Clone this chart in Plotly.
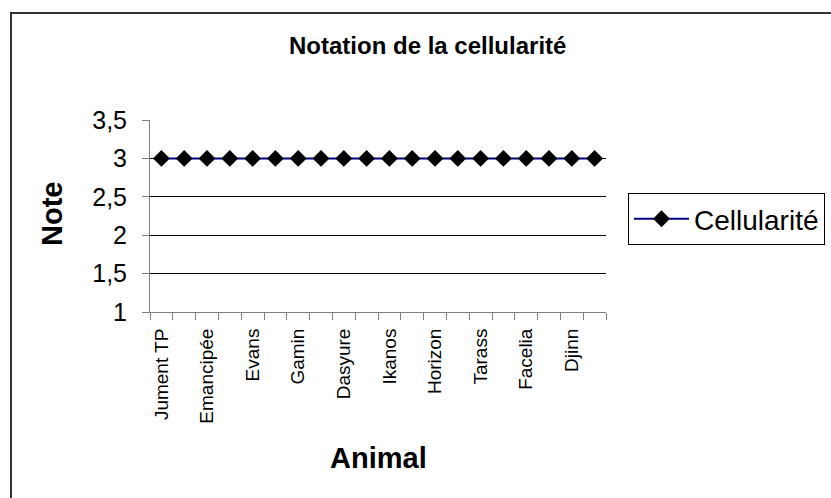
import plotly.graph_objects as go

# Data
notes = [3, 3, 3, 3, 3, 3, 3, 3, 3, 3, 3, 3, 3, 3, 3, 3, 3, 3, 3, 3]
labelled_animals = ["Jument TP", "Emancipée", "Evans", "Gamin", "Dasyure",
                    "Ikanos", "Horizon", "Tarass", "Facelia", "Djinn"]
label_positions = [0, 2, 4, 6, 8, 10, 12, 14, 16, 18]
y_ticks = [1, 1.5, 2, 2.5, 3, 3.5]

W, H = 831, 498
L, R, T, B = 150, 606, 120, 312  # plot area in pixels


def px(x):
    return (x - L) / (R - L)


def py(y):
    return (B - y) / (B - T)


font = "Liberation Sans, Arial, sans-serif"
x_idx = list(range(len(notes)))

fig = go.Figure()
fig.add_trace(go.Scatter(
    x=x_idx, y=notes, mode="lines+markers", name="Cellularité",
    line=dict(color="#000080", width=2),
    marker=dict(symbol="diamond", size=13, color="black"),
))

fig.update_layout(
    width=W, height=H,
    margin=dict(l=L, r=W - R, t=T, b=H - B, pad=0, autoexpand=False),
    paper_bgcolor="white", plot_bgcolor="white",
    separators=", ",
    font=dict(family=font, color="black"),
    showlegend=True,
    legend=dict(
        x=px(628), y=py(193), xanchor="left", yanchor="top",
        bordercolor="black", borderwidth=1, bgcolor="white",
        font=dict(size=28, family=font),
        itemwidth=55,
    ),
    xaxis=dict(
        range=[-0.5, len(notes) - 0.5],
        tickmode="array", tickvals=label_positions, ticktext=labelled_animals,
        tickangle=-90, ticks="", tickfont=dict(size=19, family=font),
        ticklabelstandoff=8,
        showgrid=False, zeroline=False,
        showline=True, linecolor="#808080", linewidth=1,
        minor=dict(tickmode="array",
                   tickvals=[i - 0.5 for i in range(len(notes) + 1)],
                   ticks="outside", ticklen=7, tickcolor="#808080",
                   tickwidth=1, showgrid=False),
        fixedrange=True,
    ),
    yaxis=dict(
        range=[1, 3.5], tickmode="array", tickvals=y_ticks,
        ticks="outside", ticklen=7, tickcolor="#808080",
        tickfont=dict(size=25, family=font),
        ticklabelstandoff=10,
        showgrid=True, gridcolor="black", gridwidth=1,
        zeroline=False, showline=True, linecolor="#808080", linewidth=1,
        fixedrange=True,
    ),
    annotations=[
        dict(text="<b>Notation de la cellularité</b>", x=px(427), y=py(45),
             xref="paper", yref="paper", showarrow=False,
             xanchor="center", yanchor="middle",
             font=dict(size=24, family=font)),
        dict(text="<b>Note</b>", x=px(52), y=py(214), textangle=-90,
             xref="paper", yref="paper", showarrow=False,
             xanchor="center", yanchor="middle",
             font=dict(size=29, family=font)),
        dict(text="<b>Animal</b>", x=px(378), y=py(458),
             xref="paper", yref="paper", showarrow=False,
             xanchor="center", yanchor="middle",
             font=dict(size=29, family=font)),
    ],
    shapes=[
        dict(type="rect", xref="paper", yref="paper",
             x0=px(11), x1=px(834), y0=py(13), y1=py(502),
             line=dict(color="#333333", width=2), fillcolor="rgba(0,0,0,0)",
             layer="below"),
    ],
)

fig.write_html("out.html", config={"displayModeBar": False},
               post_script="document.body.style.margin='0';"
                           "document.body.style.overflow='hidden';")
